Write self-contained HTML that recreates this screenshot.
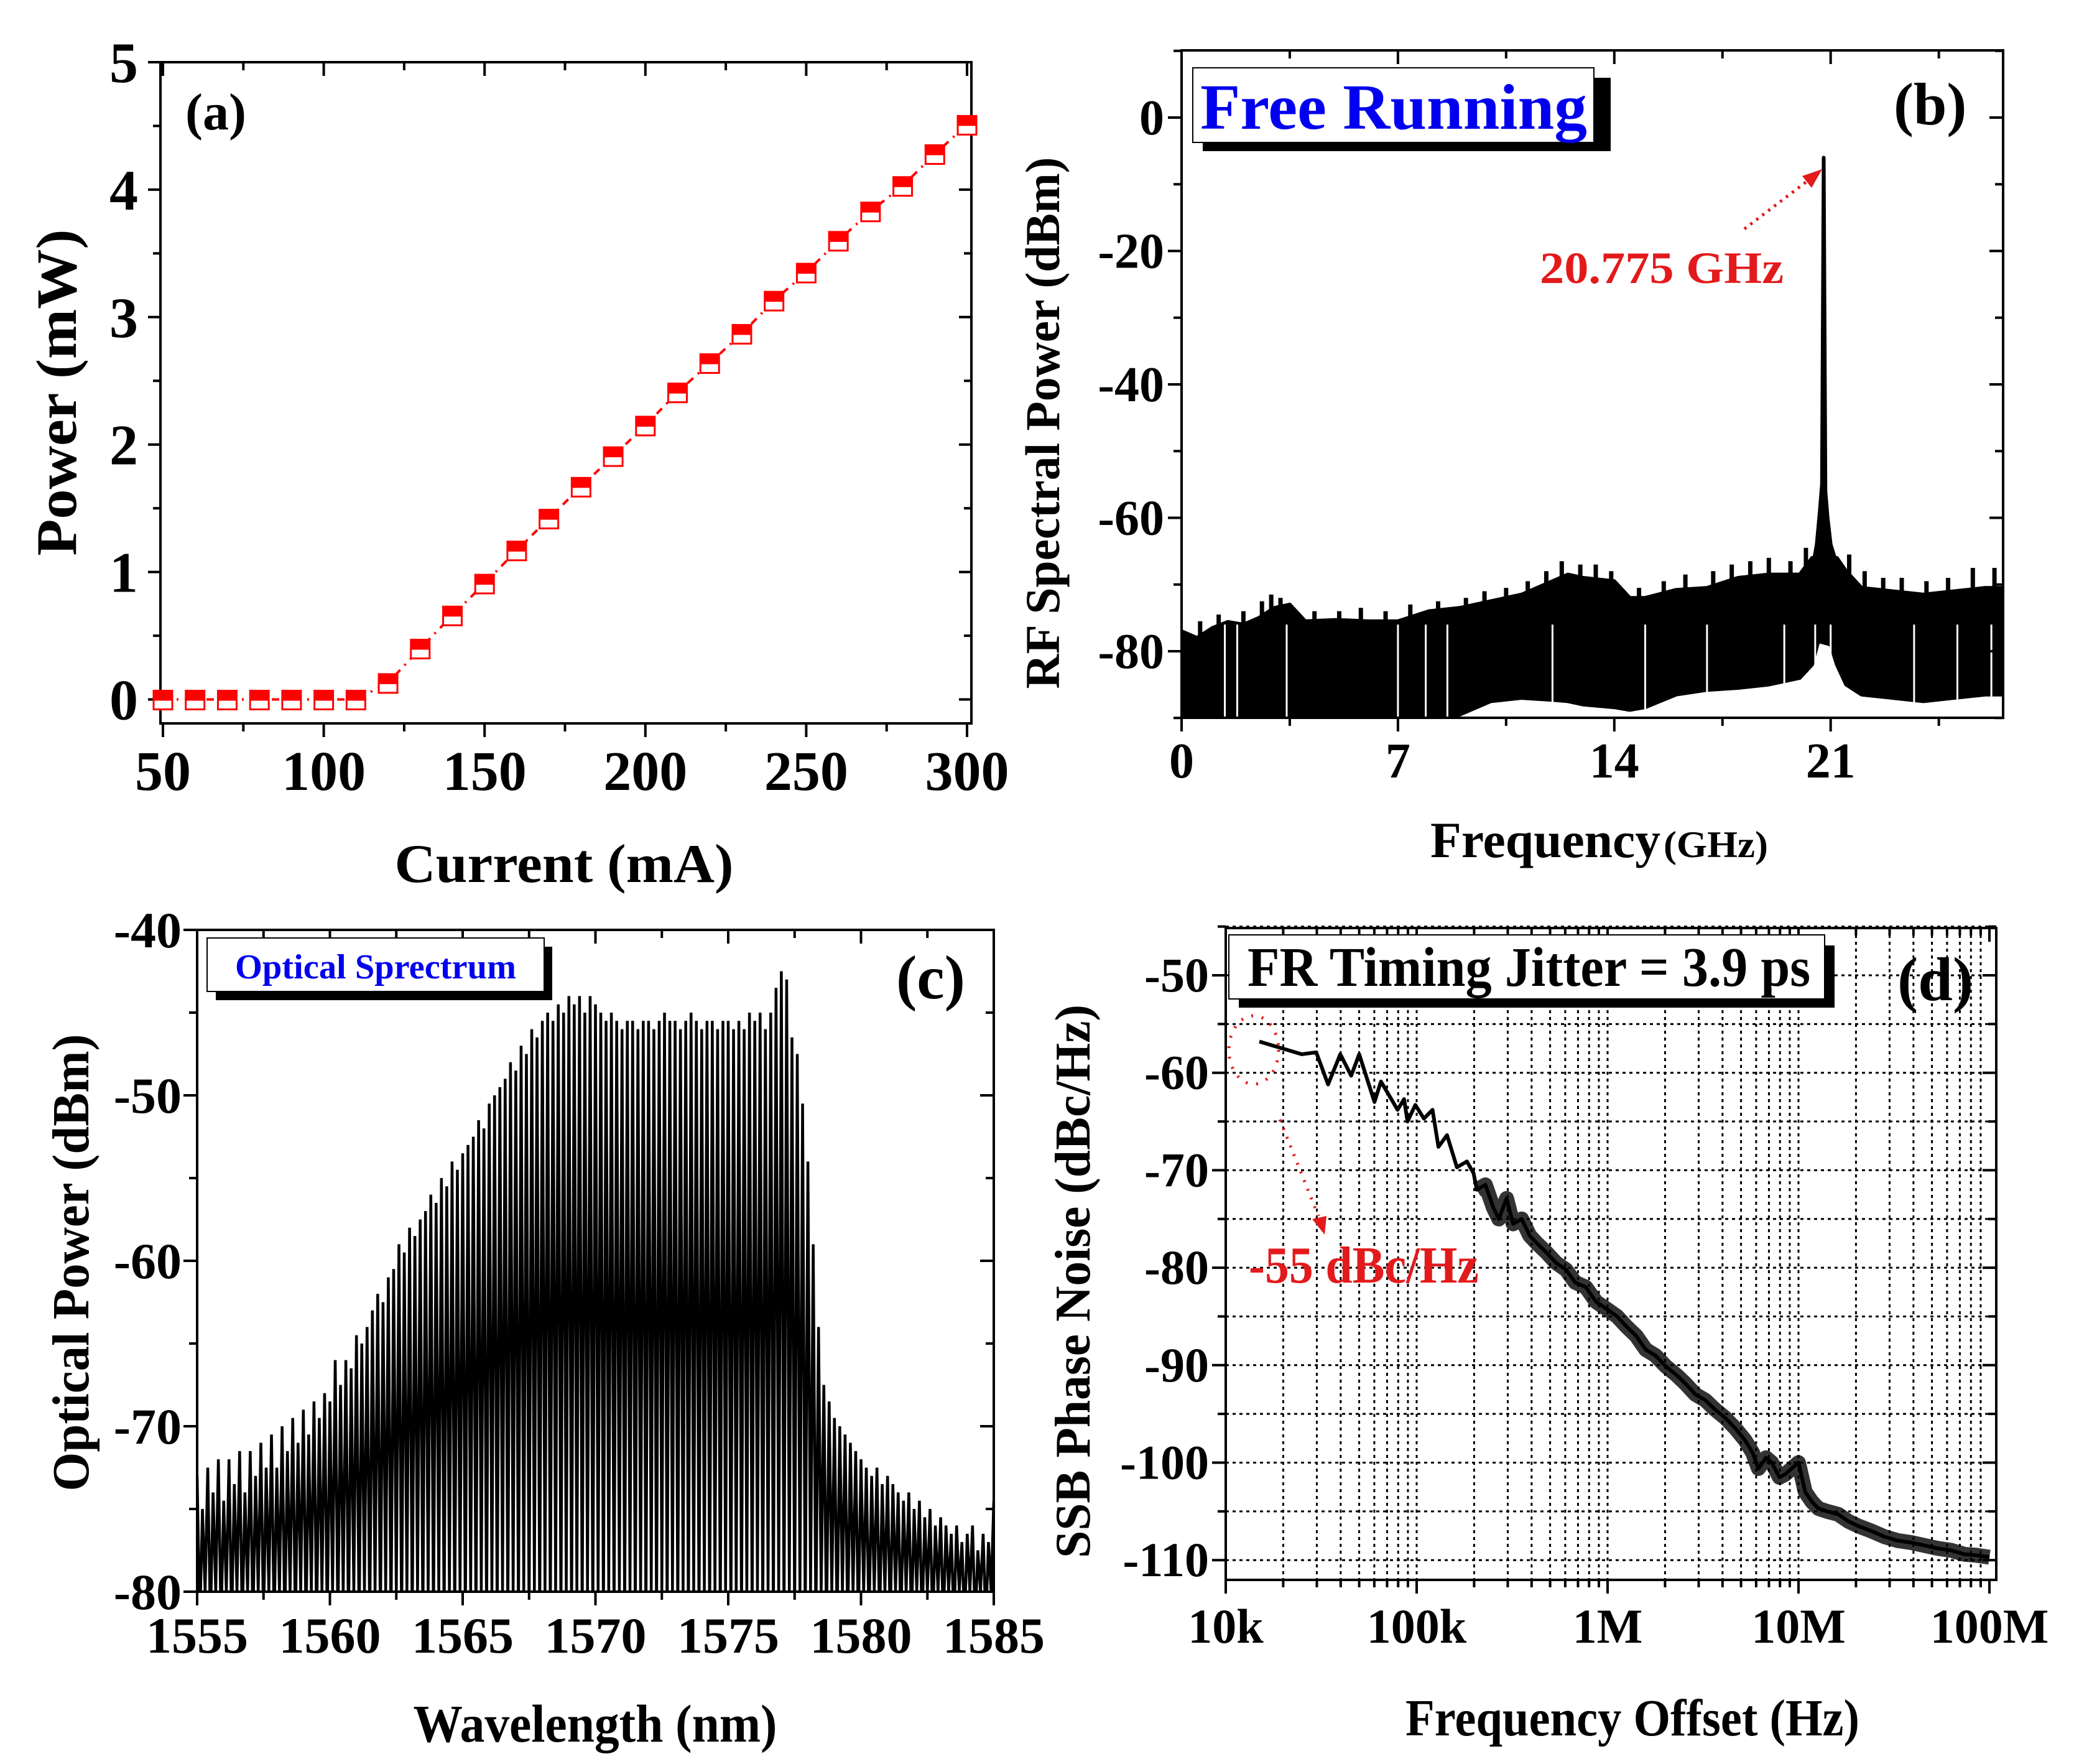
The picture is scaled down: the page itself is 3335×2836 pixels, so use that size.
<!DOCTYPE html>
<html><head><meta charset="utf-8"><style>
html,body{margin:0;padding:0;background:#fff;}
svg{display:block;font-family:"Liberation Serif",serif;font-weight:bold;}
</style></head><body>
<svg id="fig" width="3335" height="2836" viewBox="0 0 3335 2836" xmlns="http://www.w3.org/2000/svg">
<defs>
<clipPath id="clipB"><rect x="1900" y="81" width="1321" height="1073"/></clipPath>
<clipPath id="clipC"><rect x="317" y="1495" width="1281" height="1064"/></clipPath>
<clipPath id="clipD"><rect x="1971" y="1492" width="1239" height="1048"/></clipPath>
</defs>
<g id="pa">
<text x="298" y="208" font-size="84">(a)</text>
<text x="907" y="1418" font-size="88" text-anchor="middle" textLength="545" lengthAdjust="spacingAndGlyphs">Current (mA)</text>
<text transform="translate(122,631) rotate(-90)" font-size="92" text-anchor="middle" textLength="525" lengthAdjust="spacingAndGlyphs">Power (mW)</text>
</g>
<g id="pb">
<rect x="1934" y="125" width="656" height="118" fill="#000"/>
<rect x="1918" y="109" width="645" height="120" fill="#fff" stroke="#000" stroke-width="2"/>
<text x="1930" y="207" font-size="104" fill="#0000ee" textLength="622" lengthAdjust="spacingAndGlyphs">Free Running</text>
<text x="3045" y="200" font-size="96">(b)</text>
<text x="2476" y="455" font-size="72" fill="#e31a1c" textLength="392" lengthAdjust="spacingAndGlyphs">20.775 GHz</text>
<line x1="2805" y1="368" x2="2905" y2="292" stroke="#e31a1c" stroke-width="5" stroke-dasharray="4,8"/>
<polygon points="2930,272 2898,283 2913,302" fill="#e31a1c"/>
<text x="2300" y="1378" font-size="82" textLength="370" lengthAdjust="spacingAndGlyphs">Frequency</text>
<text x="2675" y="1378" font-size="60" textLength="168" lengthAdjust="spacingAndGlyphs">(GHz)</text>
<text transform="translate(1703,680) rotate(-90)" font-size="78" text-anchor="middle" textLength="855" lengthAdjust="spacingAndGlyphs">RF Spectral Power (dBm)</text>
</g>
<g id="pc">
<text x="1441" y="1605" font-size="100">(c)</text>
<text x="957" y="2800" font-size="86" text-anchor="middle" textLength="585" lengthAdjust="spacingAndGlyphs">Wavelength (nm)</text>
<text transform="translate(142,2030) rotate(-90)" font-size="84" text-anchor="middle" textLength="735" lengthAdjust="spacingAndGlyphs">Optical Power (dBm)</text>
</g>
<g id="pd">
<text x="3051" y="1608" font-size="100">(d)</text>
<text x="2625" y="2790" font-size="84" text-anchor="middle" textLength="730" lengthAdjust="spacingAndGlyphs">Frequency Offset (Hz)</text>
<text transform="translate(1752,2060) rotate(-90)" font-size="80" text-anchor="middle" textLength="890" lengthAdjust="spacingAndGlyphs">SSB Phase Noise (dBc/Hz)</text>
</g>
</svg>
<script>
// ---------- data ----------
const aCurrent=[50,60,70,80,90,100,110,120,130,140,150,160,170,180,190,200,210,220,230,240,250,260,270,280,290,300];
const aPower=[0,0,0,0,0,0,0,0.13,0.40,0.66,0.91,1.17,1.42,1.67,1.91,2.15,2.41,2.64,2.87,3.13,3.35,3.60,3.83,4.03,4.28,4.51];
const aXTicks=[50,100,150,200,250,300];
const aYTicks=[0,1,2,3,4,5];

const bFreq=[0,0.5,1,1.5,2,2.5,3,3.5,4,5,6,7,8,9,10,11,12,12.5,13,14,14.5,15,16,17,18,19,20,20.4];
const bUpper=[-77,-78,-76.5,-75.6,-76,-75,-73.5,-73,-75.5,-75.3,-75.5,-75.5,-74,-73.5,-72.5,-71.5,-69.5,-68.5,-69,-69.5,-72,-72,-70.8,-70.5,-69,-68.5,-68.5,-66];
const bLower=[-90,-90,-90,-90,-90,-90,-90,-90,-90,-90,-90,-90,-90,-89.5,-87.5,-87,-87.3,-87.5,-88,-88.4,-88.8,-88.4,-86.5,-85.8,-85.5,-85,-84,-82];
const bFreqR=[21.2,21.5,22,23,24,25,26,26.6];
const bUpperR=[-66,-68,-70.5,-71,-71.5,-71,-70.5,-70.5];
const bLowerR=[-82,-85,-86.5,-87,-87.5,-87,-86.5,-86.5];
const bPeakF=[20.4,20.55,20.65,20.72,20.775,20.83,20.9,21.0,21.2];
const bPeakV=[-68,-64,-59,-55,-6,-56,-60,-64,-67];
const bGapF=[1.4,1.8,3.4,7.0,7.9,8.6,12.0,15.0,17.0,19.5,20.5,21.0,23.7,25.1,26.2];
const bSpikeF=[0.6,1.2,2.0,2.6,2.9,3.2,4.3,5.1,5.8,6.6,7.4,8.3,9.2,9.8,10.5,11.2,11.8,12.3,12.9,13.4,13.9,14.8,15.6,16.3,17.2,17.8,18.4,19.0,19.7,20.2,21.6,22.1,22.7,23.3,24.1,24.8,25.6,26.3];
const bSpikeV=[-75.5,-74.5,-74,-72.5,-71.5,-72,-74,-74,-73.5,-74,-73,-72.5,-72,-71,-70.5,-69.5,-68,-66.5,-67,-67,-68,-70.5,-69.5,-68.5,-68,-67,-66.5,-66,-66.5,-64.5,-65.5,-68,-69,-69,-69.5,-69,-67.5,-67.5];
const bXTicks=[0,7,14,21];
const bYTicks=[0,-20,-40,-60,-80];

const cStart=1555, cStep=0.2;
const cPeaks=[-73,-75,-72.5,-74,-72,-74.5,-72,-73.5,-71.5,-74,-71.5,-73,-71,-72.5,-70.5,-72.5,-70,-71.5,-69.5,-71,-69,-70.5,-68.5,-69.5,-68,-68.5,
-66,-67.5,-66,-66.5,-64.5,-65,-64,-63,-62,-62.5,-61,-60.5,-59,-59.5,-58,-58.5,-57.5,-57,-56,-56.5,-55,-55.5,-54,-54.5,-53.5,
-53,-52.5,-51.5,-52,-50.5,-50,-49.5,-49,-48,-48.5,-47,-47.5,-46,-46.5,-45.5,-45,-45.5,-44.5,-45,-44,-44.5,-44,-45,-44,-44.5,
-45,-45.5,-45,-45.5,-46,-45.5,-45.5,-46,-45.5,-45.5,-46,-45.5,-45,-45.5,-45.5,-46,-45.5,-45,-45.5,-46,-45.5,-45.5,-46,-45.5,-45.5,
-46,-45.5,-46,-45,-45.5,-45,-46,-45,-43.5,-42.5,-43,-46.5,-47.5,-50.5,-54,-59,-64,-67.5,-68.5,-69.5,-70,-70.5,-71,-71.5,-72,
-72.5,-73,-72.5,-73.5,-73,-73.5,-74,-74.5,-74,-75,-74.5,-75.5,-75,-76,-75.5,-76,-76.5,-76,-77,-76.5,-76,-77.5,-76.5,-77,-74.5];
const cValleys=[-80,-78];
const cXTicks=[1555,1560,1565,1570,1575,1580,1585];
const cYTicks=[-40,-50,-60,-70,-80];

const dLogF=[4.176,4.398,4.474,4.536,4.6,4.657,4.699,4.779,4.813,4.9,4.934,4.952,4.993,5.038,5.083,5.114,5.159,5.211,5.263,5.298,5.315,5.36,5.401,5.43,5.471,5.505,5.55,5.592,5.63,5.678,5.73,5.782,5.83,5.886,5.94,6.0,6.05,6.097,6.15,6.2,6.25,6.304,6.36,6.408,6.46,6.512,6.56,6.616,6.67,6.72,6.76,6.79,6.83,6.86,6.9,6.93,6.97,7.0,7.035,7.07,7.104,7.15,7.208,7.26,7.313,7.38,7.451,7.52,7.59,7.66,7.73,7.8,7.868,7.93,8.0];
const dNoise=[-56.8,-58.1,-57.9,-61.2,-58.1,-60.3,-58.1,-63.0,-60.9,-63.8,-62.7,-65,-63.3,-64.7,-63.8,-67.6,-66.4,-69.7,-69.1,-70.3,-72,-71.5,-73.8,-75,-72.9,-75.5,-75,-76.7,-77.5,-78.4,-79.5,-80.2,-81.5,-82,-83.5,-84.3,-85,-86,-87,-88.4,-89,-90.1,-91,-91.9,-93,-93.6,-94.5,-95.4,-96.5,-97.7,-99,-100.6,-99.5,-100,-101.5,-101.2,-100.5,-100,-103,-104,-104.7,-105,-105.3,-106,-106.5,-107,-107.6,-108,-108.2,-108.5,-108.8,-109,-109.4,-109.5,-109.7];
const dXTicks=[4,5,6,7,8];
const dXLabels=['10k','100k','1M','10M','100M'];
const dYTicks=[-50,-60,-70,-80,-90,-100,-110];

// ---------- helpers ----------
const NS='http://www.w3.org/2000/svg';
const svg=document.getElementById('fig');
function mk(tag,attrs,parent){const e=document.createElementNS(NS,tag);for(const k in attrs)e.setAttribute(k,attrs[k]);(parent||svg).appendChild(e);return e;}
function frame(g,x0,y0,x1,y1,name){
  const r=mk('rect',{x:x0,y:y0,width:x1-x0,height:y1-y0,fill:'none',stroke:'#000','stroke-width':4},g);
  
  
}
function tickX(g,x,y0,y1,len){
  const t1=mk('line',{x1:x,y1:y1,x2:x,y2:y1+len,stroke:'#000','stroke-width':4},g);
  
  
  const t2=mk('line',{x1:x,y1:y0,x2:x,y2:y0+len,stroke:'#000','stroke-width':4},g);
  
  
}
function tickY(g,y,x0,x1,len){
  const t1=mk('line',{x1:x0-len,y1:y,x2:x0,y2:y,stroke:'#000','stroke-width':4},g);
  
  
  const t2=mk('line',{x1:x1-len,y1:y,x2:x1,y2:y,stroke:'#000','stroke-width':4},g);
  
  
}
function label(g,x,y,txt,size,anchor,name){
  const t=mk('text',{x:x,y:y,'font-size':size,'text-anchor':anchor},g);
  t.textContent=txt;
  
  
}

// ---------- panel a ----------
(function(){
  const g=document.getElementById('pa');
  const L=258,R=1562,T=100,B=1163;
  const ax=v=>262+(v-50)*(1555-262)/250, ay=v=>1124.5-v*(1124.5-100)/5;
  frame(g,L,T,R,B,'plot-frame-a');
  for(let v=50;v<=300;v+=25){tickX(g,ax(v),T,B,v%50===0?22:13);}
  for(let v=0;v<=5;v+=0.5){tickY(g,ay(v),L,R,Number.isInteger(v)?20:12);}
  aXTicks.forEach(v=>label(g,ax(v),1270,String(v),90,'middle','x-tick-label-a'));
  aYTicks.forEach(v=>label(g,222,ay(v)+32,String(v),92,'end','y-tick-label-a'));
  let d='';aCurrent.forEach((c,i)=>{d+=(i?'L':'M')+ax(c)+','+ay(aPower[i]);});
  const ln=mk('path',{d:d,fill:'none',stroke:'#ff0000','stroke-width':4,'stroke-dasharray':'12,10,3,10'},g);
  
  
  aCurrent.forEach((c,i)=>{
    const x=ax(c),y=ay(aPower[i]);
    const m=mk('g',{},g);
    
    
    mk('rect',{x:x-15,y:y-14,width:30,height:30,fill:'#fff',stroke:'#ff0000','stroke-width':3},m);
    mk('rect',{x:x-15,y:y-14,width:30,height:16,fill:'#ff0000'},m);
  });
})();

// ---------- panel b ----------
(function(){
  const g=document.getElementById('pb');
  const L=1900,R=3221,T=81,B=1154;
  const bx=f=>1900+f*49.7, by=v=>189-v*10.725;
  const dg=mk('g',{'clip-path':'url(#clipB)'},g);
  let pts=[];
  bFreq.forEach((f,i)=>pts.push(bx(f)+','+by(bUpper[i])));
  bPeakF.forEach((f,i)=>pts.push(bx(f)+','+by(bPeakV[i])));
  bFreqR.forEach((f,i)=>pts.push(bx(f)+','+by(bUpperR[i])));
  for(let i=bFreqR.length-1;i>=0;i--)pts.push(bx(bFreqR[i])+','+by(bLowerR[i]));
  pts.push(bx(21.0)+','+by(-79));pts.push(bx(20.6)+','+by(-78.5));
  for(let i=bFreq.length-1;i>=0;i--)pts.push(bx(bFreq[i])+','+by(bLower[i]));
  const band=mk('polygon',{points:pts.join(' '),fill:'#000',stroke:'#000','stroke-width':6,'stroke-linejoin':'round'},dg);
  
  
  bSpikeF.forEach((f,i)=>{
    const s=mk('line',{x1:bx(f),y1:by(bSpikeV[i]),x2:bx(f),y2:by(-80),stroke:'#000','stroke-width':7},dg);
    
    
  });
  let pd='';bPeakF.forEach((f,i)=>{pd+=(i?'L':'M')+bx(f)+','+by(bPeakV[i]);});
  const pk=mk('path',{d:pd,fill:'none',stroke:'#000','stroke-width':5},dg);
  
  
  bGapF.forEach(f=>{
    const gl=mk('line',{x1:bx(f),y1:by(-76),x2:bx(f),y2:by(-92),stroke:'#fff','stroke-width':3},dg);
    
    
  });
  frame(g,L,T,R,B,'plot-frame-b');
  for(let f=0;f<=26.5;f+=3.5){tickX(g,bx(f),T,B,f%7===0?22:13);}
  for(let v=-90;v<=10;v+=10){tickY(g,by(v),L,R,v%20===0?22:13);}
  bXTicks.forEach(v=>label(g,bx(v),1250,String(v),80,'middle','x-tick-label-b'));
  bYTicks.forEach(v=>label(g,1872,by(v)+27,String(v),80,'end','y-tick-label-b'));
})();

// ---------- panel c ----------
(function(){
  const g=document.getElementById('pc');
  const L=317,R=1598,T=1495,B=2559;
  const cx=w=>317+(w-1555)*42.7, cy=v=>1495+(-40-v)*26.6;
  const dg=mk('g',{'clip-path':'url(#clipC)'},g);
  let d='';
  cPeaks.forEach((p,i)=>{
    const w=cStart+i*cStep;
    d+=(i?'L':'M')+cx(w)+','+cy(p);
    d+='L'+cx(w+cStep/2)+','+cy(cValleys[i%2]-2);
  });
  const tr=mk('path',{d:d,fill:'none',stroke:'#000','stroke-width':4.5,'stroke-linejoin':'miter'},dg);
  
  
  frame(g,L,T,R,B,'plot-frame-c');
  for(let w=1555;w<=1585;w+=2.5){tickX(g,cx(w),T,B,w%5===0?22:13);}
  for(let v=-80;v<=-40;v+=5){tickY(g,cy(v),L,R,v%10===0?22:13);}
  cXTicks.forEach(v=>label(g,cx(v),2657,String(v),82,'middle','x-tick-label-c'));
  cYTicks.forEach(v=>label(g,292,cy(v)+28,String(v),82,'end','y-tick-label-c'));
  const sh=mk('rect',{x:347,y:1522,width:541,height:86,fill:'#000'},g);
  
  
  const bx=mk('rect',{x:333,y:1508,width:542,height:86,fill:'#fff',stroke:'#000','stroke-width':2},g);
  
  
  const lt=mk('text',{x:378,y:1573,'font-size':56,fill:'#0000ee',textLength:452,lengthAdjust:'spacingAndGlyphs'},g);
  lt.textContent='Optical Sprectrum';
  
  
})();

// ---------- panel d ----------
(function(){
  const g=document.getElementById('pd');
  const L=1971,R=3210,T=1492,B=2540;
  const dx=l=>1971+(l-4)*307, dy=v=>1568+(-50-v)*15.67;
  for(let dec=4;dec<8;dec++){for(let k=1;k<=9;k++){
    const x=dx(dec+Math.log10(k));
    const gl=mk('line',{x1:x,y1:T,x2:x,y2:B,stroke:'#000','stroke-width':3,'stroke-dasharray':'5,6'},g);
    
    
  }}
  for(let v=-110;v<=-45;v+=5){
    const gl=mk('line',{x1:L,y1:dy(v),x2:R,y2:dy(v),stroke:'#000','stroke-width':3,'stroke-dasharray':'5,6'},g);
    
    
  }
  const dg=mk('g',{'clip-path':'url(#clipD)'},g);
  let d='',d2='';
  dLogF.forEach((l,i)=>{d+=(i?'L':'M')+dx(l)+','+dy(dNoise[i]);
    if(l>=5.3)d2+=(d2?'L':'M')+dx(l)+','+dy(dNoise[i]);});
  const thick=mk('path',{d:d2,fill:'none',stroke:'#000','stroke-width':24,'stroke-linejoin':'round','stroke-opacity':0.8},dg);
  
  
  const tr=mk('path',{d:d,fill:'none',stroke:'#000','stroke-width':6,'stroke-linejoin':'round'},dg);
  
  
  frame(g,L,T,R,B,'plot-frame-d');
  for(let dec=4;dec<=8;dec++){for(let k=1;k<=9;k++){
    if(dec===8&&k>1)break;
    tickX(g,dx(dec+Math.log10(k)),T,B,k===1?22:12);
  }}
  for(let v=-110;v<=-45;v+=5){tickY(g,dy(v),L,R,v%10===0?22:13);}
  dXTicks.forEach((v,i)=>label(g,dx(v),2641,dXLabels[i],78,'middle','x-tick-label-d'));
  dYTicks.forEach(v=>label(g,1944,dy(v)+26,String(v),78,'end','y-tick-label-d'));
  const sh=mk('rect',{x:1992,y:1520,width:958,height:100,fill:'#000'},g);
  
  
  const bx=mk('rect',{x:1976,y:1503,width:958,height:103,fill:'#fff',stroke:'#000','stroke-width':2},g);
  
  
  const lt=mk('text',{x:2006,y:1585,'font-size':90,textLength:905,lengthAdjust:'spacingAndGlyphs'},g);
  lt.textContent='FR Timing Jitter = 3.9 ps';
  
  
  const el=mk('ellipse',{cx:2016,cy:1688,rx:40,ry:55,fill:'none',stroke:'#e31a1c','stroke-width':5,'stroke-dasharray':'3,14'},g);
  
  
  const al=mk('line',{x1:2058,y1:1800,x2:2120,y2:1955,stroke:'#e31a1c','stroke-width':5,'stroke-dasharray':'3,12'},g);
  
  
  const ah=mk('polygon',{points:'2130,1985 2110,1960 2133,1955',fill:'#e31a1c'},g);
  
  
  const at=mk('text',{x:2008,y:2062,'font-size':84,fill:'#e31a1c',textLength:370,lengthAdjust:'spacingAndGlyphs'},g);
  at.textContent='-55 dBc/Hz';
  
  
})();
</script>
</body></html>
